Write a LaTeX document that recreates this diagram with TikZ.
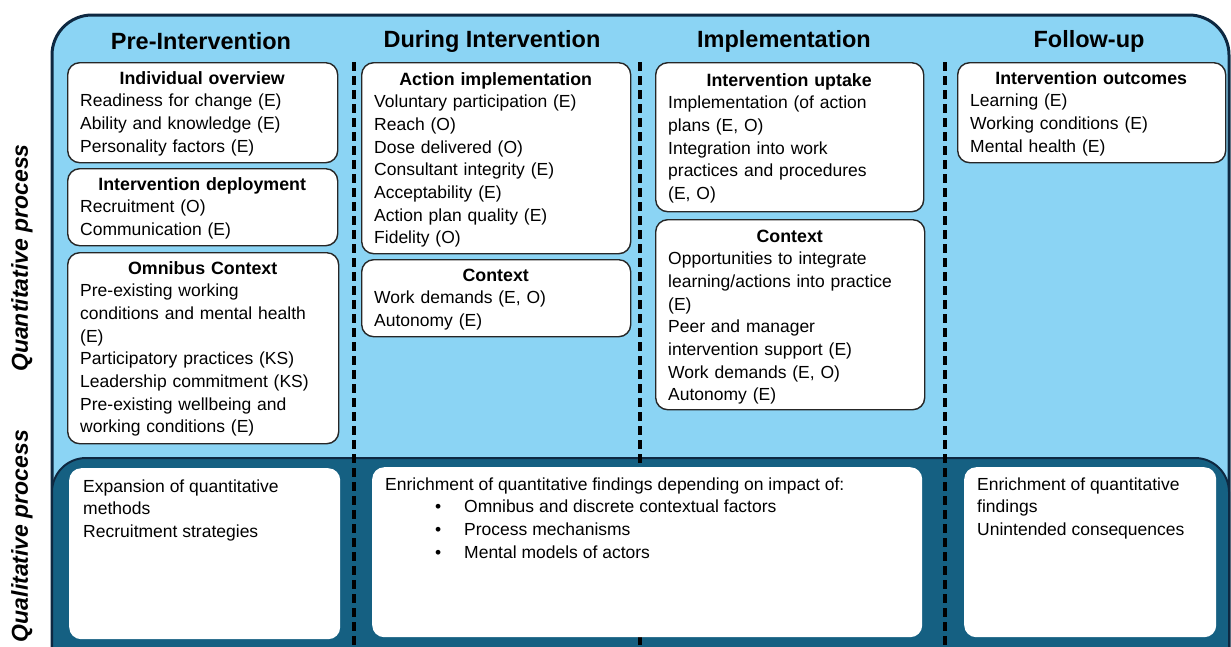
\documentclass[tikz,border=0pt]{standalone}
\usepackage{fontspec}
\setmainfont{Liberation Sans}
\usetikzlibrary{positioning}

\definecolor{skyfill}{RGB}{139,212,244}
\definecolor{panelblue}{RGB}{21,96,130}
\definecolor{framenavy}{RGB}{14,40,65}

\newcommand{\boxhead}[1]{\makebox[\hsize][c]{\fontsize{17.8}{22.7}\selectfont\bfseries\strut #1}}
\newcommand{\bulletitem}[1]{\hspace*{50pt}\makebox[29pt][l]{\textbullet}#1}

\tikzset{
  pbox/.style={draw=black!85, line width=1.4pt, fill=white, rounded corners=12pt, anchor=north west, inner sep=0pt},
  qbox/.style={fill=white, rounded corners=12pt, anchor=north west, inner sep=0pt},
  ptext/.style={anchor=north west, inner sep=0pt, align=left, font=\fontsize{17.5}{22.7}\selectfont},
  phasetitle/.style={font=\fontsize{23.5}{26}\selectfont\bfseries},
  sidelabel/.style={rotate=90, font=\fontsize{23}{26}\selectfont\bfseries\itshape},
  phaseline/.style={line width=3.2pt, dash pattern=on 9pt off 5pt}
}

\begin{document}
\begin{tikzpicture}[x=1pt, y=1pt]
    \useasboundingbox (0,0) rectangle (1231,-646);
    \clip (0,0) rectangle (1231,-646);

    % Background panels
    \draw[fill=skyfill, draw=framenavy, line width=3pt, rounded corners=40pt] (52,-15) rectangle (1229,-700);
    \draw[fill=panelblue, draw=framenavy, line width=2pt, rounded corners=34pt] (52,-458) rectangle (1229,-700);

    % Phase dividers
    \foreach \x in {354,640,945}
        \draw[phaseline] (\x,-62) -- (\x,-650);

    % Side labels
    \node[sidelabel] (quantlabel) at (22,-258) {Quantitative process};
    \node[sidelabel] (quallabel) at (22,-536) {Qualitative process};

    % Phase titles
    \node[phasetitle] (pretitle) at (201,-41) {Pre-Intervention};
    \node[phasetitle] (duringtitle) at (492,-41) {During Intervention};
    \node[phasetitle] (impltitle) at (784,-41) {Implementation};
    \node[phasetitle] (followtitle) at (1089,-41) {Follow-up};

    % Pre-Intervention boxes
    \node[pbox, minimum width=270pt, minimum height=100pt] (indiv) at (67,-62) {};
    \node[ptext, text width=244pt] (indivtxt) at ([shift={(13,-6)}]indiv.north west)
        {\boxhead{Individual overview}\\ Readiness for change (E)\\ Ability and knowledge (E)\\ Personality factors (E)};
    \node[pbox, minimum width=270pt, minimum height=77pt] (deploy) at (67,-168) {};
    \node[ptext, text width=244pt] (deploytxt) at ([shift={(13,-6)}]deploy.north west)
        {\boxhead{Intervention deployment}\\ Recruitment (O)\\ Communication (E)};
    \node[pbox, minimum width=271pt, minimum height=191pt] (omnibus) at (67,-252) {};
    \node[ptext, text width=245pt] (omnibustxt) at ([shift={(13,-6)}]omnibus.north west)
        {\boxhead{Omnibus Context}\\ Pre-existing working\\ conditions and mental health\\ (E)\\ Participatory practices (KS)\\ Leadership commitment (KS)\\ Pre-existing wellbeing and\\ working conditions (E)};

    % During Intervention boxes
    \node[pbox, minimum width=269pt, minimum height=191pt] (action) at (361,-62) {};
    \node[ptext, text width=243pt] (actiontxt) at ([shift={(13,-7)}]action.north west)
        {\boxhead{Action implementation}\\ Voluntary participation (E)\\ Reach (O)\\ Dose delivered (O)\\ Consultant integrity (E)\\ Acceptability (E)\\ Action plan quality (E)\\ Fidelity (O)};
    \node[pbox, minimum width=269pt, minimum height=77pt] (ctxtwo) at (361,-259) {};
    \node[ptext, text width=243pt] (ctxtwotxt) at ([shift={(13,-6)}]ctxtwo.north west)
        {\boxhead{Context}\\ Work demands (E, O)\\ Autonomy (E)};

    % Implementation boxes
    \node[pbox, minimum width=268pt, minimum height=149pt] (uptake) at (655,-62) {};
    \node[ptext, text width=242pt] (uptaketxt) at ([shift={(13,-8)}]uptake.north west)
        {\boxhead{Intervention uptake}\\ Implementation (of action\\ plans (E, O)\\ Integration into work\\ practices and procedures\\ (E, O)};
    \node[pbox, minimum width=269pt, minimum height=190pt] (ctxthree) at (655,-219) {};
    \node[ptext, text width=243pt] (ctxthreetxt) at ([shift={(13,-7)}]ctxthree.north west)
        {\boxhead{Context}\\ Opportunities to integrate\\ learning/actions into practice\\ (E)\\ Peer and manager\\ intervention support (E)\\ Work demands (E, O)\\ Autonomy (E)};

    % Follow-up box
    \node[pbox, minimum width=268pt, minimum height=100pt] (outcomes) at (957,-62) {};
    \node[ptext, text width=242pt] (outcomestxt) at ([shift={(13,-6)}]outcomes.north west)
        {\boxhead{Intervention outcomes}\\ Learning (E)\\ Working conditions (E)\\ Mental health (E)};

    % Qualitative boxes
    \node[qbox, minimum width=271pt, minimum height=171pt] (qpre) at (69,-468) {};
    \node[ptext] (qpretxt) at ([shift={(14,-8)}]qpre.north west)
        {\strut Expansion of quantitative\\ methods\\ Recruitment strategies};
    \node[qbox, minimum width=550pt, minimum height=170pt] (qduring) at (372,-467) {};
    \node[ptext] (qduringtxt) at ([shift={(13,-7)}]qduring.north west)
        {\strut Enrichment of quantitative findings depending on impact of:\\
         \bulletitem{Omnibus and discrete contextual factors}\\
         \bulletitem{Process mechanisms}\\
         \bulletitem{Mental models of actors}};
    \node[qbox, minimum width=252pt, minimum height=170pt] (qfollow) at (964,-467) {};
    \node[ptext] (qfollowtxt) at ([shift={(13,-7)}]qfollow.north west)
        {\strut Enrichment of quantitative\\ findings\\ Unintended consequences};
\end{tikzpicture}
\end{document}
